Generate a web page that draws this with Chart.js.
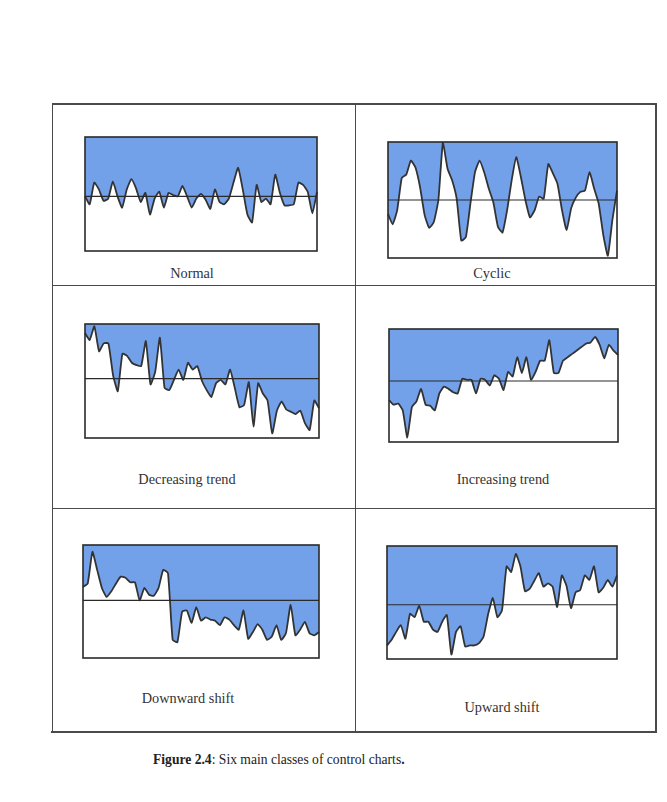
<!DOCTYPE html>
<html>
<head>
<meta charset="utf-8">
<script src="https://cdn.jsdelivr.net/npm/chart.js@4.4.0/dist/chart.umd.min.js"></script>
<style>
  body { margin:0; background:#fff; width:667px; height:802px; position:relative; overflow:hidden;
         font-family:"Liberation Serif","Times New Roman",serif; }
  .box { position:absolute; }
  .lbl { position:absolute; font-size:14.3px; color:#333; transform:translate(-50%,-50%); white-space:nowrap; }
  .rule { position:absolute; background:#4a4a4a; }
  #caption { position:absolute; left:153px; top:752px; font-size:13.6px; color:#222; white-space:nowrap; }
</style>
</head>
<body>
<div id="page"></div>
<div id="caption"><b>Figure 2.4</b>: Six main classes of control charts<b>.</b></div>
<script>
// Six classes of control chart patterns (0..100 scale)
const titulos = ['Normal', 'Cyclic', 'Decreasing trend', 'Increasing trend', 'Downward shift', 'Upward shift'];
const normal = [48, 41, 60, 54, 44, 46, 61, 48, 38, 54, 63, 55, 43, 51, 32, 46, 52, 38, 51, 49, 48, 57, 48, 38, 46, 50, 45, 37, 54, 43, 41, 46, 60, 73, 54, 32, 25, 58, 43, 46, 41, 67, 51, 40, 40, 41, 60, 58, 52, 33, 52];
const cyclic = [38, 29, 41, 69, 72, 84, 78, 61, 37, 26, 31, 50, 100, 77, 67, 51, 15, 18, 47, 74, 84, 74, 60, 48, 27, 22, 41, 67, 87, 70, 50, 35, 41, 53, 51, 81, 73, 64, 41, 24, 43, 52, 57, 58, 74, 60, 47, 20, 2, 33, 58];
const decreasing = [92, 86, 98, 76, 83, 83, 55, 41, 74, 72, 66, 64, 63, 85, 47, 58, 88, 44, 42, 51, 60, 51, 66, 60, 63, 50, 42, 36, 48, 51, 47, 60, 44, 27, 29, 49, 10, 48, 39, 33, 4, 24, 32, 25, 23, 21, 24, 13, 7, 33, 26];
const increasing = [37, 33, 34, 28, 4, 31, 36, 47, 33, 32, 28, 43, 49, 47, 44, 43, 56, 55, 55, 43, 56, 55, 50, 59, 56, 46, 62, 58, 75, 61, 75, 55, 62, 72, 72, 90, 61, 61, 72, 75, 78, 81, 84, 87, 88, 93, 86, 74, 86, 81, 77];
const downward = [63, 66, 94, 78, 62, 54, 59, 66, 72, 71, 67, 67, 51, 62, 56, 55, 62, 78, 75, 16, 14, 41, 42, 31, 45, 33, 36, 34, 33, 29, 36, 34, 29, 25, 42, 17, 23, 30, 25, 16, 19, 29, 16, 22, 47, 20, 25, 32, 22, 20, 23];
const upward = [12, 17, 24, 30, 18, 40, 37, 47, 33, 33, 26, 24, 33, 39, 4, 24, 29, 11, 12, 12, 14, 20, 40, 54, 37, 43, 82, 77, 93, 82, 60, 62, 69, 76, 64, 67, 64, 46, 74, 65, 45, 59, 61, 74, 70, 82, 59, 63, 70, 64, 74];
const lineaCentral = [48, 50, 52, 54, 51, 48];
const muestras = normal.map((v, i) => i + 1);

// posiciones de cada cuadro (x, y, ancho, alto) y de su etiqueta
const cajas = [
  [85, 137, 232, 114], [388, 142, 229, 116],
  [85, 324, 234, 114], [389, 329, 229, 113],
  [83, 545, 236, 113], [387, 546, 230, 113]
];
const etiquetas = [[192, 273], [492, 273], [187, 479], [503, 479], [188, 698], [502, 707]];
const series = [normal, cyclic, decreasing, increasing, downward, upward];

const page = document.getElementById('page');
// Lineas de la tabla
function regla(x, y, w, h) {
  const d = document.createElement('div');
  d.className = 'rule';
  d.style.cssText = `left:${x}px;top:${y}px;width:${w}px;height:${h}px`;
  page.appendChild(d);
}
regla(52, 103, 605, 1.5);
regla(52, 285, 605, 1.3);
regla(52, 508, 605, 1.3);
regla(51, 731, 606, 2);
regla(52, 103, 1.3, 629);
regla(355, 103, 1.3, 629);
regla(655, 103, 1.5, 629);

const marco = {
  id: 'marco',
  afterDatasetsDraw(chart, args, opts) {
    const {ctx, chartArea: a, scales} = chart;
    const yc = scales.y.getPixelForValue(opts.centro);
    ctx.save();
    ctx.strokeStyle = '#2a2a2a';
    ctx.lineWidth = 1.2;
    ctx.beginPath();
    ctx.moveTo(a.left, yc);
    ctx.lineTo(a.right, yc);
    ctx.stroke();
    ctx.lineWidth = 1.6;
    ctx.strokeRect(a.left, a.top, a.right - a.left, a.bottom - a.top);
    ctx.restore();
  }
};

series.forEach((datos, k) => {
  const [x, y, w, h] = cajas[k];
  const div = document.createElement('div');
  div.className = 'box';
  div.style.cssText = `left:${x - 2}px;top:${y - 2}px;width:${w + 4}px;height:${h + 4}px`;
  const cv = document.createElement('canvas');
  div.appendChild(cv);
  page.appendChild(div);

  new Chart(cv, {
    type: 'line',
    data: {
      labels: muestras,
      datasets: [{
        data: datos,
        fill: 'end',
        backgroundColor: '#72a1ea',
        borderColor: '#333',
        borderWidth: 1.8,
        pointRadius: 0,
        tension: 0.15
      }]
    },
    options: {
      responsive: true,
      maintainAspectRatio: false,
      animation: false,
      layout: { padding: 2 },
      plugins: { legend: { display: false }, tooltip: { enabled: false }, marco: { centro: lineaCentral[k] } },
      scales: {
        x: { display: false, offset: false },
        y: { display: false, min: 0, max: 100 }
      }
    },
    plugins: [marco]
  });

  const l = document.createElement('div');
  l.className = 'lbl';
  l.textContent = titulos[k];
  l.style.left = etiquetas[k][0] + 'px';
  l.style.top = etiquetas[k][1] + 'px';
  page.appendChild(l);
});
</script>
</body>
</html>
